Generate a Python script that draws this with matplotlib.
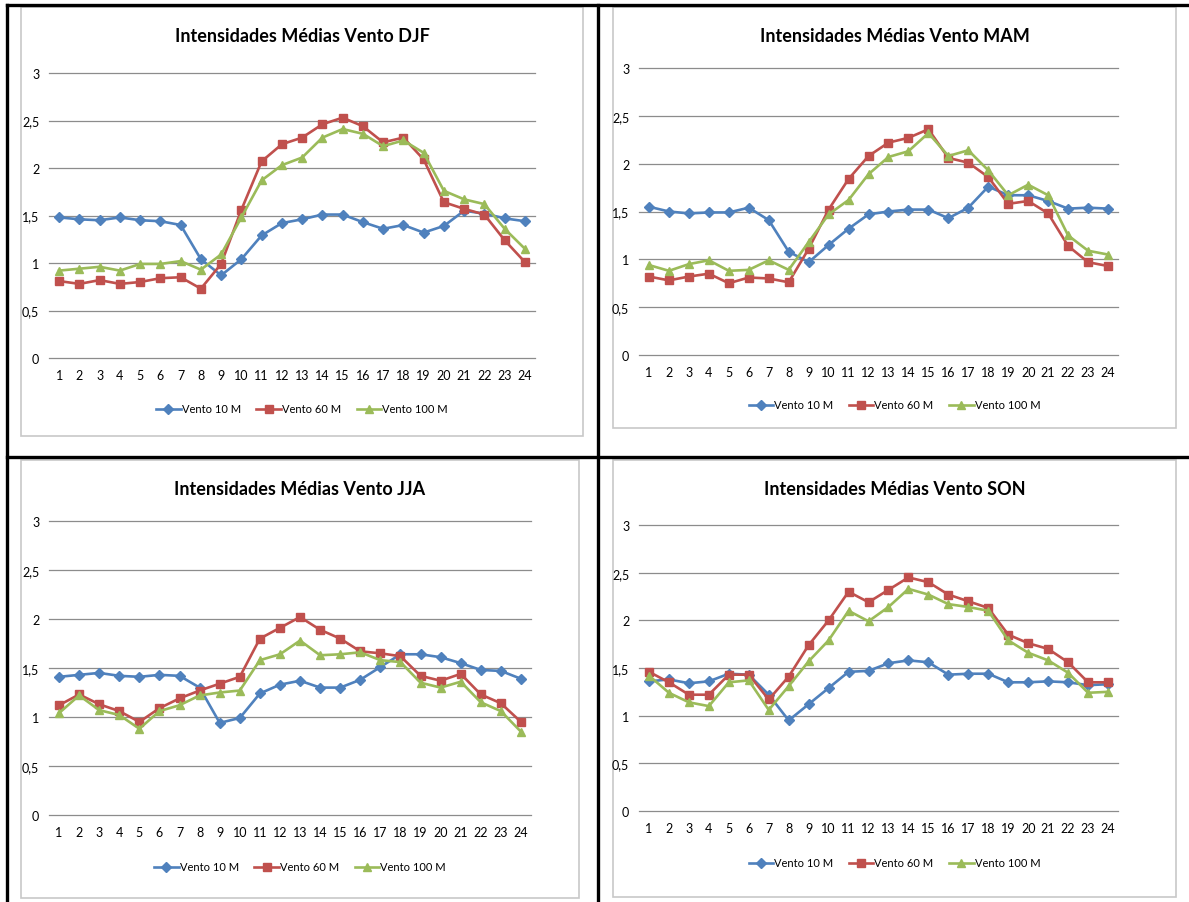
import matplotlib
matplotlib.use("Agg")
import matplotlib.pyplot as plt
from matplotlib.lines import Line2D
from matplotlib.patches import Rectangle

plt.rcParams['font.family'] = ['Lato', 'DejaVu Sans']

# Horas do dia
horas = list(range(1, 25))

# DJF
djf_10 = [1.48, 1.46, 1.45, 1.48, 1.45, 1.44, 1.40, 1.04, 0.87, 1.04, 1.29, 1.42,
          1.46, 1.51, 1.51, 1.43, 1.36, 1.40, 1.32, 1.39, 1.55, 1.52, 1.47, 1.44]
djf_60 = [0.81, 0.78, 0.82, 0.78, 0.80, 0.84, 0.85, 0.73, 0.99, 1.56, 2.07, 2.25,
          2.32, 2.46, 2.53, 2.44, 2.27, 2.32, 2.09, 1.64, 1.57, 1.51, 1.24, 1.01]
djf_100 = [0.92, 0.94, 0.96, 0.92, 0.99, 0.99, 1.02, 0.93, 1.09, 1.48, 1.87, 2.03,
           2.11, 2.32, 2.41, 2.36, 2.23, 2.29, 2.16, 1.76, 1.67, 1.62, 1.36, 1.15]

# MAM
mam_10 = [1.55, 1.50, 1.48, 1.49, 1.49, 1.54, 1.41, 1.08, 0.97, 1.15, 1.32, 1.47,
          1.50, 1.52, 1.52, 1.43, 1.54, 1.76, 1.67, 1.67, 1.61, 1.53, 1.54, 1.53]
mam_60 = [0.82, 0.78, 0.82, 0.85, 0.75, 0.81, 0.80, 0.76, 1.11, 1.52, 1.84, 2.08,
          2.22, 2.27, 2.36, 2.06, 2.01, 1.86, 1.58, 1.61, 1.48, 1.14, 0.97, 0.93]
mam_100 = [0.94, 0.88, 0.95, 0.99, 0.88, 0.89, 0.99, 0.89, 1.18, 1.47, 1.62, 1.89,
           2.07, 2.13, 2.32, 2.08, 2.14, 1.93, 1.67, 1.78, 1.67, 1.25, 1.09, 1.05]

# JJA
jja_10 = [1.41, 1.43, 1.45, 1.42, 1.41, 1.43, 1.42, 1.30, 0.94, 0.99, 1.24, 1.33,
          1.37, 1.30, 1.30, 1.38, 1.51, 1.64, 1.64, 1.61, 1.55, 1.48, 1.47, 1.39]
jja_60 = [1.12, 1.23, 1.13, 1.06, 0.95, 1.09, 1.19, 1.27, 1.34, 1.41, 1.80, 1.91,
          2.02, 1.89, 1.80, 1.67, 1.65, 1.62, 1.42, 1.37, 1.44, 1.23, 1.14, 0.95]
jja_100 = [1.04, 1.22, 1.07, 1.02, 0.88, 1.06, 1.12, 1.22, 1.25, 1.27, 1.58, 1.64,
           1.78, 1.63, 1.64, 1.66, 1.58, 1.56, 1.35, 1.30, 1.36, 1.15, 1.06, 0.85]

# SON
son_10 = [1.36, 1.38, 1.34, 1.36, 1.44, 1.43, 1.22, 0.95, 1.12, 1.29, 1.46, 1.47,
          1.55, 1.58, 1.56, 1.43, 1.44, 1.44, 1.35, 1.35, 1.36, 1.35, 1.32, 1.33]
son_60 = [1.46, 1.35, 1.22, 1.22, 1.43, 1.43, 1.17, 1.41, 1.74, 2.00, 2.30, 2.19,
          2.32, 2.45, 2.40, 2.27, 2.20, 2.13, 1.85, 1.76, 1.70, 1.56, 1.35, 1.35]
son_100 = [1.42, 1.24, 1.14, 1.10, 1.35, 1.37, 1.06, 1.31, 1.57, 1.79, 2.10, 1.99,
           2.14, 2.33, 2.27, 2.17, 2.14, 2.10, 1.79, 1.66, 1.58, 1.45, 1.24, 1.25]

yticks = [0, 0.5, 1, 1.5, 2, 2.5, 3]
ytick_labels = ['0', '0,5', '1', '1,5', '2', '2,5', '3']
nomes = ['Vento 10 M', 'Vento 60 M', 'Vento 100 M']
cores = ['#4F81BD', '#C0504D', '#9BBB59']
marcadores = ['D', 's', '^']
tam_marcador = [5, 5.5, 6]

W, H = 1189, 903
fig = plt.figure(figsize=(W / 100, H / 100), dpi=100)


def eixo_px(x0, y0, x1, y1):
    return fig.add_axes([x0 / W, 1 - y1 / H, (x1 - x0) / W, (y1 - y0) / H])


def caixa_px(x0, y0, x1, y1):
    fig.add_artist(Rectangle((x0 / W, 1 - y1 / H), (x1 - x0) / W, (y1 - y0) / H,
                             transform=fig.transFigure, facecolor='white',
                             edgecolor='#C8C8C8', linewidth=1.2, zorder=0))


def linha_px(x0, y0, x1, y1):
    fig.add_artist(Line2D([x0 / W, x1 / W], [1 - y0 / H, 1 - y1 / H],
                          transform=fig.transFigure, color='black', linewidth=2.4))


# (caixa do grafico, area de plotagem, y do titulo, y da legenda)
paineis = [
    ('Intensidades Médias Vento DJF', [djf_10, djf_60, djf_100],
     (21, 8, 583, 437), (49, 74, 535, 359), 37, 410),
    ('Intensidades Médias Vento MAM', [mam_10, mam_60, mam_100],
     (613, 8, 1176, 429), (639, 69, 1118, 356), 37, 406),
    ('Intensidades Médias Vento JJA', [jja_10, jja_60, jja_100],
     (21, 461, 579, 899), (49, 522, 531, 816), 490, 868),
    ('Intensidades Médias Vento SON', [son_10, son_60, son_100],
     (613, 461, 1176, 898), (639, 526, 1118, 812), 490, 864),
]

for titulo, series, caixa, area, y_tit, y_leg in paineis:
    caixa_px(*caixa)
    ax = eixo_px(*area)
    for yt in yticks:
        ax.axhline(yt, color='#8C8C8C', linewidth=0.9, clip_on=False, zorder=0)
    for vals, nome, cor, mk, ms in zip(series, nomes, cores, marcadores, tam_marcador):
        ax.plot(horas, vals, color=cor, linewidth=1.9, marker=mk, markersize=ms,
                markerfacecolor=cor, markeredgecolor=cor, label=nome)
    ax.set_xlim(0.5, 24.5)
    ax.set_ylim(0, 3)
    ax.set_xticks(horas)
    ax.set_yticks(yticks)
    ax.set_yticklabels(ytick_labels)
    ax.tick_params(axis='both', length=0, labelsize=9)
    ax.tick_params(axis='x', pad=8)
    ax.tick_params(axis='y', pad=7)
    for s in ax.spines.values():
        s.set_visible(False)
    ax.patch.set_alpha(0)

    cx = (caixa[0] + caixa[2]) / 2
    fig.text(cx / W, 1 - y_tit / H, titulo, ha='center', va='center',
             fontsize=13, fontweight='bold')
    ax.legend(loc='center', bbox_to_anchor=(cx / W, 1 - y_leg / H),
              bbox_transform=fig.transFigure, ncol=3, frameon=False,
              fontsize=8, handlelength=2.2, columnspacing=1.4, handletextpad=0.1)

# linhas da tabela
linha_px(7, 6, 1189, 6)
linha_px(7, 6, 7, 903)
linha_px(598, 6, 598, 903)
linha_px(7, 458, 1189, 458)

fig.savefig('out.png', dpi=100)
